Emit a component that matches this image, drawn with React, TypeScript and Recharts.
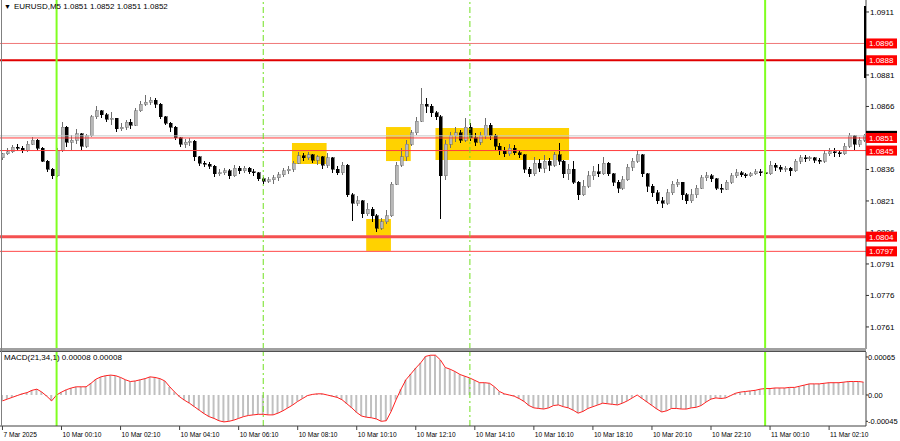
import { ComposedChart, Bar, Line, XAxis, YAxis, ReferenceLine, ReferenceArea } from "recharts";

// EURUSD, 10-minute candles, prices in pips above 1.0800
const base = 1.08;
const firstOpen = 41.5;
const closes = [
  43.5, 44.5, 46.5, 46, 45, 48, 50, 46, 40, 36, 33,
  45, 56, 49, 50, 53, 47, 52, 61, 64, 62,
  60, 60.5, 55.5, 56, 58.5, 57, 64, 67, 68, 69,
  67, 61, 58, 56, 51, 48, 49, 49.5, 42, 39,
  38.5, 37.5, 34, 34.5, 35.5, 33, 36.5, 35.5, 36.5, 35,
  34.5, 31.5, 30.5, 31, 32, 33.5, 35.5, 36, 39, 42.5,
  41.5, 43, 40.5, 42, 38, 41.5, 36, 34.5, 38, 24,
  20, 21, 15, 17, 14, 8, 11, 14, 29, 38,
  42, 48, 53.5, 59, 67, 66, 63, 61, 33, 48,
  52, 53.5, 50, 56, 51, 49, 52, 57, 52, 47,
  45, 43.5, 46, 44, 43, 36, 34, 39, 36.5, 40,
  38, 43, 40, 34, 36, 30, 24, 28, 33, 35,
  34, 39, 34, 30, 27, 31, 37, 40, 43, 34,
  28, 25, 21, 20, 25, 29, 30, 24, 21, 24,
  27, 32, 33, 31.5, 27, 26.5, 30, 33, 34.5, 33.5,
  33, 34, 35, 34.5, 34, 38, 37, 36, 36.5, 35.5,
  40, 41.5, 41, 41.5, 40.5, 40, 43.5, 44.5, 44, 43.5,
  47, 52, 48, 50, 52,
];
const highs = [
  44, 46, 47.5, 48, 47, 49.5, 51.5, 50.5, 46.5, 40.5, 36.5,
  46, 58.5, 56.5, 52.5, 55.5, 53.5, 53, 62, 66, 64.5,
  63, 63.5, 60.5, 58, 59.5, 60, 65.5, 68.5, 71.5, 70.5,
  70, 67.5, 61.5, 58.5, 56.5, 51.5, 50.5, 51, 50, 42.5,
  40, 39.5, 38, 36, 36.5, 36, 38, 37.5, 37.5, 37,
  36, 35, 32.5, 32.5, 33.5, 35, 36.5, 37.5, 40, 44.5,
  44, 44.5, 43.5, 43, 42.5, 44, 42, 37.5, 39.5, 38.5,
  25, 23.5, 21.5, 20, 18, 15, 13, 16.5, 30, 39.5,
  46, 50, 55, 61, 75, 70, 67, 64, 62, 50,
  54, 56, 55, 60.5, 58, 53.5, 54, 60.5, 58, 53,
  48.5, 46.5, 48, 47.5, 45.5, 43.5, 37, 42, 41, 43,
  41.5, 44.5, 48.5, 40.5, 38.5, 40, 30.5, 31, 35.5, 37.5,
  38.5, 42, 39.5, 34.5, 31, 33, 38.5, 41.5, 45.5, 43.5,
  34.5, 29, 26, 23, 26.5, 30.5, 31.5, 30, 25, 26.5,
  28.5, 33.5, 35, 34, 32, 29, 31, 34.5, 36, 35.5,
  34.5, 35, 36, 36, 35.5, 40, 39, 38, 37.5, 37,
  41, 43, 43, 42.5, 42, 41.5, 45, 46, 46, 45,
  48.5, 53.5, 52.5, 51.5, 53,
];
const lows = [
  40.5, 43, 44, 45, 44, 44.5, 47.5, 45, 39.5, 35, 31.5,
  32.5, 44.5, 46.5, 45.5, 48, 45.5, 46, 51.5, 60, 60.5,
  58.5, 57, 54, 54.5, 55, 55.5, 56.5, 63.5, 66, 66.5,
  65.5, 60, 57, 54, 50, 46.5, 46, 47, 40, 37.5,
  37, 36, 32.5, 33, 33.5, 31.5, 32.5, 34, 34.5, 34,
  33, 30.5, 29, 29.5, 29, 30.5, 32.5, 34, 35, 38.5,
  40, 40.5, 39, 38, 36, 36.5, 34.5, 33.5, 33.5, 23,
  11.5, 18.5, 13, 14, 11, 6, 7, 10, 13.5, 28.5,
  37, 40, 47, 52.5, 58.5, 63, 61, 59.5, 12.5, 31,
  46, 49, 48.5, 49, 49.5, 47, 47.5, 50.5, 50, 45.5,
  43, 42, 42.5, 43, 41.5, 34.5, 32.5, 33, 35, 34.5,
  35.5, 37, 38, 32, 31, 29, 21.5, 23.5, 27, 31,
  32.5, 33.5, 33, 28, 25, 26, 30.5, 35.5, 39, 32.5,
  25.5, 23, 19.5, 17.5, 19, 24, 27.5, 21.5, 19.5, 20,
  22.5, 26.5, 30.5, 30, 26, 25, 26, 29, 32, 32.5,
  32, 32.5, 33.5, 33, 32.5, 33.5, 35.5, 35, 35, 33,
  35, 38.5, 39.5, 40, 39, 38.5, 39, 42.5, 42, 42,
  43, 46, 45.5, 46.5, 49,
];
// MACD(21,34,1) in units of 0.00001
const macdValues = [
  -10, -7, -4, -1, 2, 4, 8, 10, 5, -2, -10,
  0, 5, 9, 12, 14, 14, 14, 20, 27, 31,
  33, 34, 33, 30, 26, 23, 24, 26, 28, 31,
  30, 28, 24, 14, 5, -3, -9, -14, -20, -26,
  -32, -37, -40, -44, -46, -45, -43, -40, -37, -35,
  -34, -33, -33, -34, -34, -31, -27, -22, -17, -11,
  -6, -1, 1, 2, 2, 0, -2, -4, -8, -15,
  -22, -30, -36, -38, -39, -41, -45, -44, -28, -8,
  10, 26, 36, 46, 55, 66, 68, 68, 60, 47,
  44, 40, 35, 32, 29, 25, 21, 21, 20, 14,
  6, 2, 0, -2, -6, -11, -18, -22, -23, -24,
  -22, -18, -17, -20, -22, -26, -31, -28, -23, -20,
  -17, -14, -15, -16, -17, -14, -10, -5, 0, -6,
  -12, -18, -24, -29, -27, -23, -23, -24, -24, -22,
  -21, -18, -12, -7, -5, -6, -5, -1, 3, 5,
  6, 7, 8, 10, 11, 11, 12, 12, 12, 13,
  13, 15, 17, 19, 19, 19, 20, 21, 21, 21,
  22, 23, 23, 23, 22,
];

const timeTicks = [
  "10 Mar 00:10", "10 Mar 02:10", "10 Mar 04:10", "10 Mar 06:10", "10 Mar 08:10",
  "10 Mar 10:10", "10 Mar 12:10", "10 Mar 14:10", "10 Mar 16:10", "10 Mar 18:10",
  "10 Mar 20:10", "10 Mar 22:10", "11 Mar 00:10", "11 Mar 02:10",
];
const firstTickLabel = "7 Mar 2025";
const dayLines = ["10 Mar 00:00", "11 Mar 00:00"];
const sessionLines = ["10 Mar 07:00", "10 Mar 14:00"];

const priceTicks = [1.0911, 1.0881, 1.0866, 1.0836, 1.0821, 1.0806, 1.0791, 1.0776, 1.0761];
const bidPrice = 1.0852;
const levels = [
  { price: 1.0896, color: "#f07878", width: 1 },
  { price: 1.0888, color: "#e00000", width: 2 },
  { price: 1.0851, color: "#ff3c3c", width: 1 },
  { price: 1.0845, color: "#ff3c3c", width: 1 },
  { price: 1.0804, color: "#f45050", width: 3 },
  { price: 1.0797, color: "#ff4848", width: 1 },
];
const boxes = [
  { from: "10 Mar 08:00", to: "10 Mar 09:10", top: 1.08486, bottom: 1.08386 },
  { from: "10 Mar 11:10", to: "10 Mar 12:00", top: 1.08562, bottom: 1.084 },
  { from: "10 Mar 10:30", to: "10 Mar 11:20", top: 1.08124, bottom: 1.07972 },
  { from: "10 Mar 12:50", to: "10 Mar 17:20", top: 1.08558, bottom: 1.08405 },
];
const macdTicks = [65, 0, -45];

const times = closes.map((_, i) => {
  const m = 22 * 60 + 10 + i * 10;
  const day = m < 1440 ? 7 : m < 2880 ? 10 : 11;
  const mm = day === 7 ? m : m % 1440;
  const hh = String(Math.floor(mm / 60)).padStart(2, "0");
  const mi = String(mm % 60).padStart(2, "0");
  return `${day} Mar ${hh}:${mi}`;
});

const candles = closes.map((c, i) => {
  const o = i === 0 ? firstOpen : closes[i - 1];
  return {
    t: times[i],
    open: base + o / 10000,
    close: base + c / 10000,
    high: base + highs[i] / 10000,
    low: base + lows[i] / 10000,
    range: [base + lows[i] / 10000, base + highs[i] / 10000],
    macd: macdValues[i],
  };
});

const font = "'Liberation Sans', Arial, sans-serif";
const priceDomain = [1.07505, 1.09167];

function Candle(props: any) {
  const { x, y, width, height, payload } = props;
  if (x == null || y == null) return null;
  const top = Math.min(y, y + height);
  const h = Math.abs(height);
  const cx = Math.round(x + width / 2);
  const span = payload.high - payload.low;
  const py = (p: number) => (span > 0 ? top + ((payload.high - p) / span) * h : top);
  const up = payload.close >= payload.open;
  const b1 = py(Math.max(payload.open, payload.close));
  const b2 = py(Math.min(payload.open, payload.close));
  const color = up ? "#6e6e6e" : "#000";
  return (
    <g shapeRendering="crispEdges">
      <line x1={cx + 0.5} x2={cx + 0.5} y1={top} y2={top + h} stroke={color} strokeWidth={1} />
      <rect x={cx - 1} y={b1} width={3} height={Math.max(1, b2 - b1)} fill={up ? "#b8b8b8" : "#000"} stroke={up ? "#707070" : "#000"} strokeWidth={0.5} />
    </g>
  );
}

function PriceTick(props: any) {
  const { y, payload } = props;
  const v = payload.value;
  const level = levels.find((l) => Math.abs(l.price - v) < 1e-7);
  const isBid = Math.abs(v - bidPrice) < 1e-7;
  if (level || isBid) {
    return (
      <g>
        <rect x={866} y={y - 5} width={31} height={10} fill={isBid ? "#000" : "#ff0000"} />
        <text x={869} y={y + 3} fill="#fff" fontSize={8} fontFamily={font}>{v.toFixed(4)}</text>
      </g>
    );
  }
  return (
    <g>
      <line x1={866} x2={869} y1={y} y2={y} stroke="#303030" />
      <text x={870} y={y + 3} fill="#000" fontSize={8} fontFamily={font}>{v.toFixed(4)}</text>
    </g>
  );
}

function MacdTick(props: any) {
  const { y, payload } = props;
  const v = payload.value;
  const label = v === 0 ? "0.00" : (v / 100000).toFixed(5);
  return (
    <g>
      <line x1={866} x2={868} y1={y} y2={y} stroke="#303030" />
      <text x={868} y={y + 3} fill="#000" fontSize={7.5} fontFamily={font}>{label}</text>
    </g>
  );
}

function TimeTick(props: any) {
  const { x, y, payload } = props;
  const label = payload.value === times[0] ? firstTickLabel : payload.value;
  return (
    <text x={x + 1} y={y + 5} fill="#000" fontSize={6.6} fontFamily={font}>{label}</text>
  );
}

function verticalLines() {
  return [
    ...dayLines.map((t) => (
      <ReferenceLine key={t} x={t} stroke="#80ff20" strokeWidth={2} ifOverflow="visible" />
    )),
    ...sessionLines.map((t) => (
      <ReferenceLine key={t} x={t} stroke="#70e020" strokeWidth={1} strokeDasharray="6 3 2 3" ifOverflow="visible" />
    )),
  ];
}

export default function App() {
  return (
    <div style={{ position: "absolute", left: 0, top: 0, width: 900, height: 441, background: "#fff", overflow: "hidden" }}>
      {/* yellow zones sit under the candles */}
      <div style={{ position: "absolute", left: 0, top: 0 }}>
        <ComposedChart width={900} height={349} data={candles} margin={{ top: 0, right: 0, bottom: 0, left: 0 }} barCategoryGap={0}>
          <XAxis dataKey="t" hide />
          <YAxis orientation="right" width={34} type="number" domain={priceDomain} allowDataOverflow tick={false} tickLine={false} axisLine={false} />
          {boxes.map((b) => (
            <ReferenceArea key={b.from} x1={b.from} x2={b.to} y1={b.bottom} y2={b.top} fill="#ffd200" fillOpacity={1} stroke="none" />
          ))}
        </ComposedChart>
      </div>
      <div style={{ position: "absolute", left: 0, top: 0 }}>
        <ComposedChart width={900} height={349} data={candles} margin={{ top: 0, right: 0, bottom: 0, left: 0 }} barCategoryGap={0}>
          <XAxis dataKey="t" hide />
          <YAxis
            orientation="right"
            width={34}
            type="number"
            domain={priceDomain}
            allowDataOverflow
            ticks={[...priceTicks, bidPrice, ...levels.map((l) => l.price)]}
            interval={0}
            tick={<PriceTick />}
            tickLine={false}
            axisLine={{ stroke: "#404040" }}
          />
          <ReferenceLine y={bidPrice} stroke="#c8c8c8" />
          <Bar dataKey="range" shape={(p: any) => <Candle {...p} />} isAnimationActive={false} />
          {levels.map((l) => (
            <ReferenceLine key={l.price} y={l.price} stroke={l.color} strokeWidth={l.width} />
          ))}
          {verticalLines()}
        </ComposedChart>
      </div>
      <div style={{ position: "absolute", left: 0, top: 348, width: 866, height: 3, background: "#a0a0a0" }} />
      <div style={{ position: "absolute", left: 0, top: 351, width: 866, height: 1, background: "#505050" }} />
      <div style={{ position: "absolute", left: 0, top: 351 }}>
        <ComposedChart width={900} height={90} data={candles} margin={{ top: 1, right: 0, bottom: 0, left: 0 }} barCategoryGap={0}>
          <XAxis
            dataKey="t"
            height={15}
            ticks={[times[0], ...timeTicks]}
            interval={0}
            tick={<TimeTick />}
            tickSize={4}
            tickLine={{ stroke: "#404040" }}
            axisLine={{ stroke: "#404040" }}
          />
          <YAxis
            orientation="right"
            width={34}
            type="number"
            domain={[-53, 73.5]}
            allowDataOverflow
            ticks={macdTicks}
            interval={0}
            tick={<MacdTick />}
            tickLine={false}
            axisLine={{ stroke: "#404040" }}
          />
          <Bar dataKey="macd" fill="#c0c0c0" barSize={2} isAnimationActive={false} />
          <Line dataKey="macd" type="linear" stroke="#ff2020" strokeWidth={1} dot={false} isAnimationActive={false} />
          {verticalLines()}
        </ComposedChart>
      </div>
      <div style={{ position: "absolute", left: 1, top: 0, width: 1, height: 426, background: "#808080" }} />
      <div style={{ position: "absolute", left: 864, top: 6, width: 2, height: 72, background: "#000" }} />
      <div style={{ position: "absolute", left: 4, top: 2, fontSize: 8, fontFamily: font, color: "#000", whiteSpace: "nowrap" }}>
        <span style={{ fontSize: 7, marginRight: 3 }}>▼</span>EURUSD,M5 1.0851 1.0852 1.0851 1.0852
      </div>
      <div style={{ position: "absolute", left: 4, top: 353, fontSize: 8, fontFamily: font, color: "#000", whiteSpace: "nowrap" }}>
        MACD(21,34,1) 0.00008 0.00008
      </div>
    </div>
  );
}
